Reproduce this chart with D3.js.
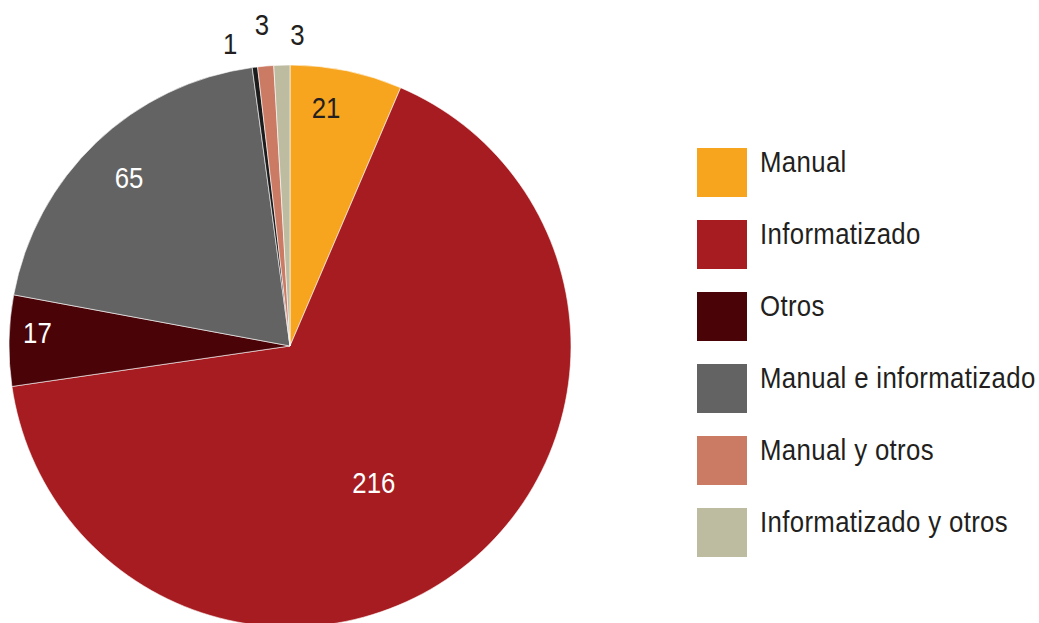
<!DOCTYPE html>
<html>
<head>
<meta charset="utf-8">
<script src="https://cdn.jsdelivr.net/npm/d3@7"></script>
<style>
  body { margin: 0; background: #fff; }
  text { font-family: "Liberation Sans Narrow", "Arial Narrow", "Liberation Sans", sans-serif; }
</style>
</head>
<body>
<div id="chart"></div>
<script>
// slices in drawing order, clockwise from 12 o'clock
const categories = ["Manual", "Informatizado", "Otros", "Manual e informatizado", "Sin especificar", "Manual y otros", "Informatizado y otros"]
const values = [21, 216, 17, 65, 1, 3, 3]
const colors = ["#f7a51e", "#a61c20", "#4a0306", "#636363", "#1c1c1c", "#cb7a64", "#bdbca0"]
// entries shown in the legend (the 1-value slice has none)
const legendCategories = ["Manual", "Informatizado", "Otros", "Manual e informatizado", "Manual y otros", "Informatizado y otros"]

const width = 1039
const height = 623
const cx = 290
const cy = 346
const radius = 281
const squeeze = 0.86 // fake a condensed face

// label placement: radius factor and angle nudge (degrees) per slice
const labelLayout = [
  { r: 0.86, da: -3, fill: "#231f20" },
  { r: 0.57, da: 6, fill: "#fff" },
  { r: 0.90, da: 2, fill: "#fff" },
  { r: 0.83, da: 0, fill: "#fff" },
  { r: 1.10, da: -4, fill: "#231f20" },
  { r: 1.15, da: 0, fill: "#231f20" },
  { r: 1.11, da: 3, fill: "#231f20" }
]

const svg = d3.select("#chart")
  .append("svg")
  .attr("width", width)
  .attr("height", height)

const color = d3.scaleOrdinal().domain(categories).range(colors)

const pie = d3.pie().sort(null).value(d => d.value)
const arcs = pie(categories.map((c, i) => ({ name: c, value: values[i], i })))

const arc = d3.arc().innerRadius(0).outerRadius(radius)

const g = svg.append("g").attr("transform", `translate(${cx},${cy})`)

g.selectAll("path.slice")
  .data(arcs)
  .enter()
    .append("path")
    .attr("class", "slice")
    .attr("d", arc)
    .attr("fill", d => color(d.data.name))
    .attr("stroke", "#fff")
    .attr("stroke-width", 0.6)

g.selectAll("text.value")
  .data(arcs)
  .enter()
    .append("text")
    .attr("class", "value")
    .attr("transform", d => {
      const lay = labelLayout[d.data.i]
      const a = (d.startAngle + d.endAngle) / 2 + lay.da * Math.PI / 180
      const r = radius * lay.r
      return `translate(${r * Math.sin(a)},${-r * Math.cos(a)}) scale(${squeeze},1)`
    })
    .attr("text-anchor", "middle")
    .attr("dy", "0.36em")
    .attr("font-size", 30)
    .attr("fill", d => labelLayout[d.data.i].fill)
    .text(d => d.data.value)

// legend
const legend = svg.append("g").attr("transform", "translate(697,148)")
const row = d3.scaleBand().domain(legendCategories).range([0, 432])

const item = legend.selectAll("g.item")
  .data(legendCategories)
  .enter()
    .append("g")
    .attr("class", "item")
    .attr("transform", d => `translate(0,${row(d)})`)

item.append("rect")
  .attr("width", 50)
  .attr("height", 49)
  .attr("fill", d => color(d))

item.append("text")
  .attr("transform", `translate(63,24) scale(${squeeze},1)`)
  .attr("font-size", 30)
  .attr("letter-spacing", 0.4)
  .attr("fill", "#231f20")
  .text(d => d)
</script>
</body>
</html>
